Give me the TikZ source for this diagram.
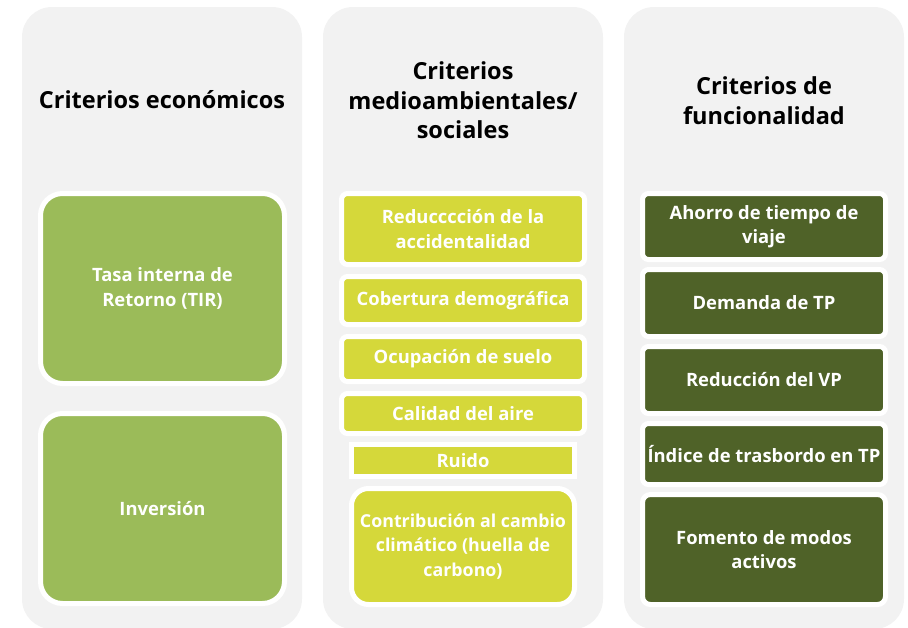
\documentclass[tikz,border=0pt]{standalone}
\usepackage{fontspec}
\setmainfont{Open Sans}
\usetikzlibrary{positioning}
\definecolor{panelgray}{RGB}{242,242,242}
\definecolor{econgreen}{RGB}{155,187,89}
\definecolor{ambcolor}{RGB}{213,216,58}
\definecolor{funcgreen}{RGB}{79,98,40}

\tikzset{
  panel/.style={fill=panelgray, rounded corners=30pt},
  heading/.style={font=\bfseries\fontsize{23.5}{29.5}\selectfont, align=center},
  critbox/.style={draw=white, line width=5pt, text=white, align=center,
    font=\bfseries\fontsize{18.4}{24.3}\selectfont, inner sep=0pt, outer sep=0pt},
  econbox/.style={critbox, fill=econgreen, minimum width=244pt,
    minimum height=190pt, rounded corners=22pt},
  ambbox/.style={critbox, fill=ambcolor, minimum width=243pt, rounded corners=6pt},
  funcbox/.style={critbox, fill=funcgreen, minimum width=243pt, rounded corners=6pt}
}

\begin{document}
\begin{tikzpicture}[x=1pt, y=-1pt]
    \useasboundingbox (0,0) rectangle (908,627);
    % three background panels
    \foreach \px in {22,323,624}
      \fill[panel] (\px,7) rectangle ++(280,622);
    % headings
    \node[heading] (econtitle) at (162,100) {Criterios económicos};
    \node[heading] (ambtitle) at (463,100.5) {Criterios\\medioambientales/\\sociales};
    \node[heading] (functitle) at (764,100.5) {Criterios de\\funcionalidad};
    % economic criteria
    \node[econbox] (tir) at (162.5,288.5) {Tasa interna de\\Retorno (TIR)};
    \node[econbox] (inv) at (162.5,508.5) {Inversión};
    % environmental / social criteria
    \node[ambbox, minimum height=71pt] (acc) at (463,229) {Reducccción de la\\accidentalidad};
    \node[ambbox, minimum height=48pt] (cob) at (463,300.5) {Cobertura demográfica};
    \node[ambbox, minimum height=45pt] (ocu) at (463,359) {Ocupación de suelo};
    \node[ambbox, minimum height=40pt] (aire) at (463,413.5) {Calidad del aire};
    \node[ambbox, minimum width=223pt, minimum height=32pt, rounded corners=0pt] (ruido) at (463,460.5) {Ruido};
    \node[ambbox, minimum width=223pt, minimum height=116pt, rounded corners=17pt,
      font=\bfseries\fontsize{17.8}{24.3}\selectfont] (clima) at (463,546.5)
      {Contribución al cambio\\climático (huella de\\carbono)};
    % functionality criteria
    \node[funcbox, minimum height=66pt] (ahorro) at (764,226.5) {Ahorro de tiempo de\\viaje};
    \node[funcbox, minimum height=67pt] (demanda) at (764,303) {Demanda de TP};
    \node[funcbox, minimum height=67pt] (vp) at (764,380) {Reducción del VP};
    \node[funcbox, minimum height=61pt] (trasb) at (764,454) {Índice de trasbordo en TP};
    \node[funcbox, minimum height=110pt, rounded corners=8pt] (activos) at (764,549.5) {Fomento de modos\\activos};
\end{tikzpicture}
\end{document}
